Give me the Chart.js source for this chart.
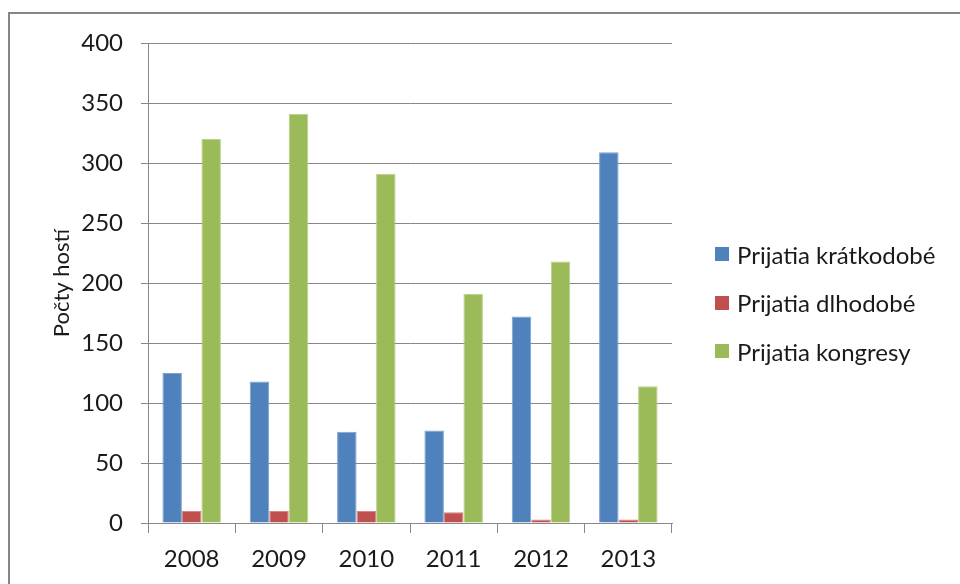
<!DOCTYPE html>
<html>
<head>
<meta charset="utf-8">
<script src="https://cdn.jsdelivr.net/npm/chart.js@4/dist/chart.umd.min.js"></script>
<style>
  html, body { margin: 0; padding: 0; background: #fff; }
  #wrap { position: relative; width: 960px; height: 584px; overflow: hidden; }
  #frame { position: absolute; left: 8px; top: 12px; width: 960px; height: 600px;
           border-top: 2px solid #868686; border-left: 2px solid #868686; }
  #legend { position: absolute; left: 715px; top: 230px; font-family: Lato, sans-serif;
            font-size: 24px; color: #1a1a1a; }
  .item { height: 48.5px; display: flex; align-items: center; }
  .box { width: 14px; height: 14px; margin-right: 8px; }
  canvas { position: absolute; left: 0; top: 0; }
</style>
</head>
<body>
<div id="wrap">
  <div id="frame"></div>
  <canvas id="graf" width="960" height="584"></canvas>
  <div id="legend"></div>
</div>
<script>
// --- DATOS ---
const roky = ['2008', '2009', '2010', '2011', '2012', '2013'];
const kratkodobe = [125, 118, 76, 77, 172, 309];
const dlhodobe = [10, 10, 10, 9, 3, 3];
const kongresy = [320, 341, 291, 191, 218, 114];
const nazvy = ['Prijatia krátkodobé', 'Prijatia dlhodobé', 'Prijatia kongresy'];
const farby = ['#4F81BD', '#C0504D', '#9BBB59'];
const okraje = ['#7FA2D0', '#D38583', '#B8D08A'];

const font = { family: 'Lato, sans-serif', size: 24 };
const seda = '#878787';

const datasets = [kratkodobe, dlhodobe, kongresy].map((d, i) => ({
    label: nazvy[i],
    data: d,
    backgroundColor: farby[i],
    borderColor: okraje[i],
    borderWidth: 1,
    categoryPercentage: 0.67,
    barPercentage: 1
}));

// legenda v HTML
document.getElementById('legend').innerHTML = nazvy.map((n, i) => `
    <div class="item"><div class="box" style="background:${farby[i]}"></div><span>${n}</span></div>
`).join('');

new Chart(document.getElementById('graf'), {
    type: 'bar',
    data: { labels: roky, datasets: datasets },
    options: {
        responsive: false,
        animation: false,
        layout: { padding: { left: 49, top: 43, right: 288, bottom: 0 } },
        plugins: { legend: { display: false }, tooltip: { enabled: false } },
        scales: {
            x: {
                grid: { offset: true, drawOnChartArea: false, color: seda, tickLength: 10 },
                border: { color: seda, width: 1 },
                ticks: { font: font, color: '#1a1a1a', padding: 12 },
                afterFit: (s) => { s.height = 61; }
            },
            y: {
                min: 0, max: 400,
                ticks: { stepSize: 50, font: font, color: '#1a1a1a', padding: 18 },
                grid: { color: seda, tickLength: 7 },
                border: { color: seda, width: 1 },
                title: { display: true, text: 'Počty hostí', font: { family: 'Lato, sans-serif', size: 22 }, color: '#1a1a1a', padding: 0 },
                afterFit: (s) => { s.width = 99; }
            }
        }
    }
});
</script>
</body>
</html>
